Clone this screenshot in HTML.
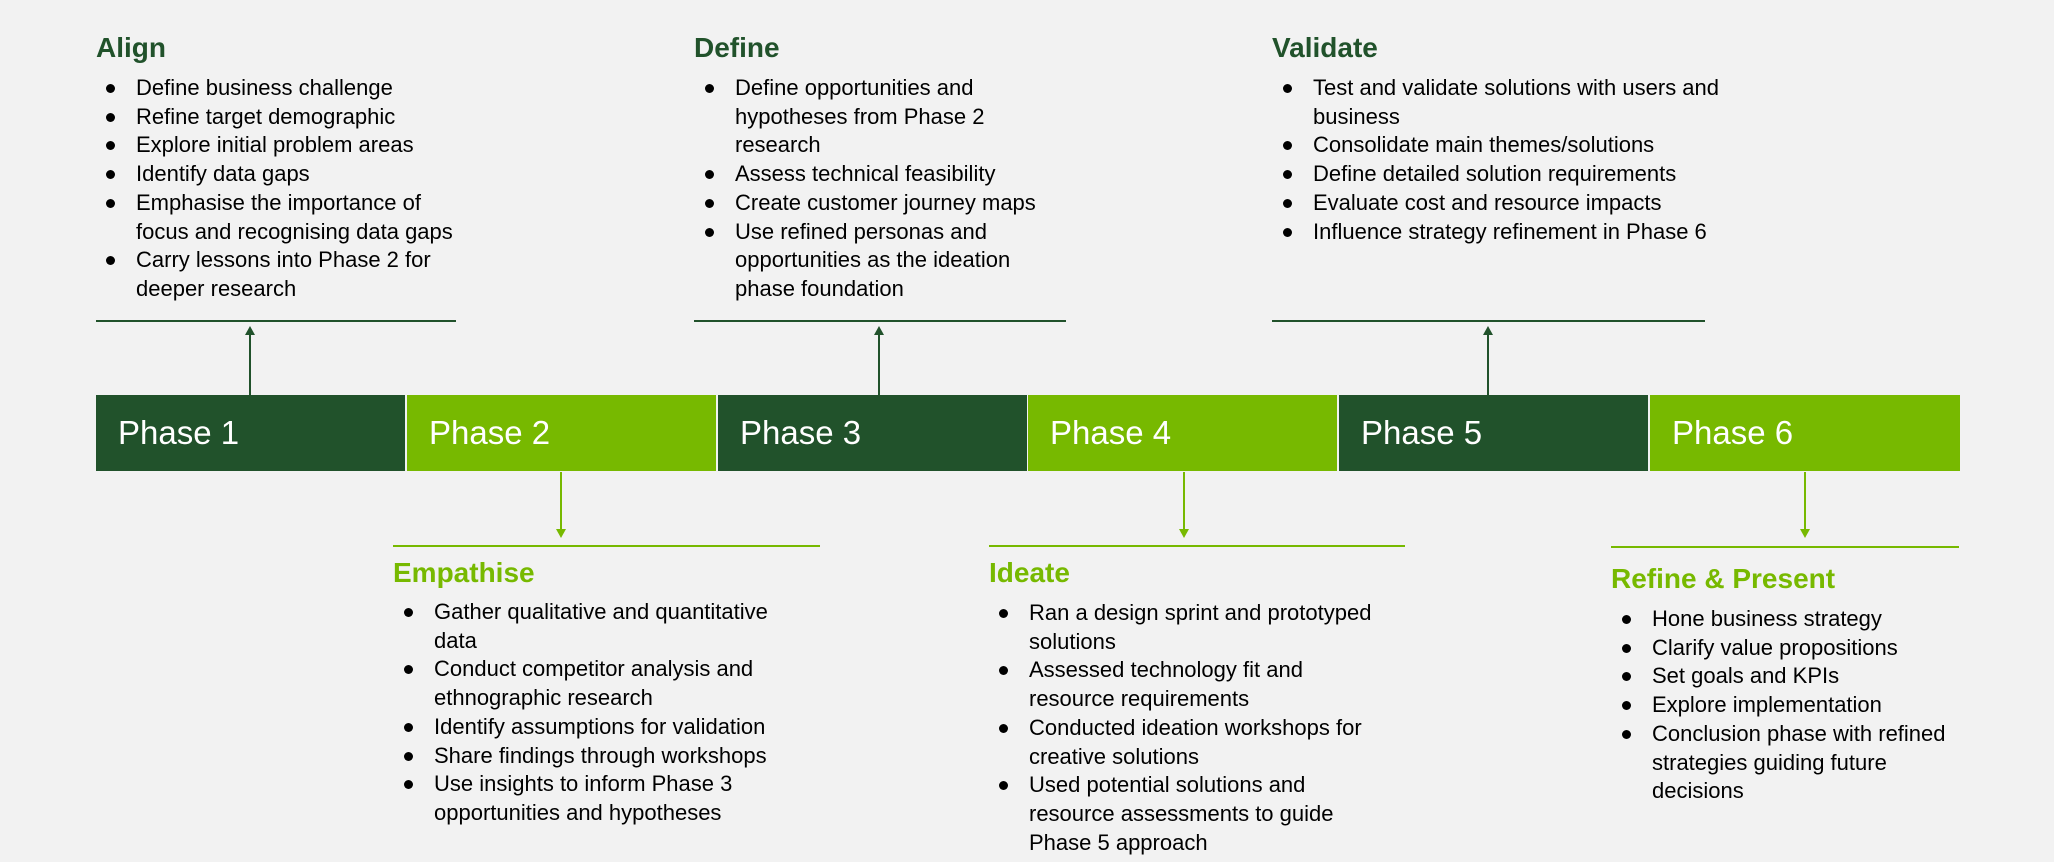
<!DOCTYPE html>
<html><head><meta charset="utf-8"><style>
body{margin:0;background:#f2f2f2;width:2054px;height:862px;overflow:hidden;position:relative;font-family:"Liberation Sans",Arial,sans-serif}
.t{position:absolute;font-weight:bold;font-size:28px;line-height:32px;white-space:nowrap}
.dk{color:#21522b}.lt{color:#77b900}
ul{position:absolute;margin:0;padding:0;list-style:none;font-size:22px;line-height:28.7px;color:#000;white-space:nowrap}
li{position:relative}
li::before{content:"";position:absolute;left:-30px;top:10px;width:9px;height:9px;border-radius:50%;background:#000}
.ph{position:absolute;top:395px;height:76px;width:309px;color:#fff;font-size:33px;line-height:76px;box-sizing:border-box;padding-left:22px}
</style></head><body>
<svg width="2054" height="862" style="position:absolute;left:0;top:0">
<g stroke-width="2">
<line x1="96" y1="321" x2="456" y2="321" stroke="#21522b"/>
<line x1="694" y1="321" x2="1066" y2="321" stroke="#21522b"/>
<line x1="1272" y1="321" x2="1705" y2="321" stroke="#21522b"/>
<line x1="250" y1="395" x2="250" y2="334" stroke="#21522b"/>
<line x1="879" y1="395" x2="879" y2="334" stroke="#21522b"/>
<line x1="1488" y1="395" x2="1488" y2="334" stroke="#21522b"/>
<line x1="393" y1="546" x2="820" y2="546" stroke="#77b900"/>
<line x1="989" y1="546" x2="1405" y2="546" stroke="#77b900"/>
<line x1="1611" y1="547" x2="1959" y2="547" stroke="#77b900"/>
<line x1="561" y1="472" x2="561" y2="530" stroke="#77b900"/>
<line x1="1184" y1="472" x2="1184" y2="530" stroke="#77b900"/>
<line x1="1805" y1="472" x2="1805" y2="530" stroke="#77b900"/>
</g>
<g fill="#21522b"><polygon points="245,335 255,335 250,326"/><polygon points="874,335 884,335 879,326"/><polygon points="1483,335 1493,335 1488,326"/></g>
<g fill="#77b900"><polygon points="556,529 566,529 561,538"/><polygon points="1179,529 1189,529 1184,538"/><polygon points="1800,529 1810,529 1805,538"/></g>
</svg>
<div class="ph" style="left:96px;background:#21522b">Phase 1</div>
<div class="ph" style="left:407px;background:#77b900">Phase 2</div>
<div class="ph" style="left:718px;background:#21522b">Phase 3</div>
<div class="ph" style="left:1028px;background:#77b900">Phase 4</div>
<div class="ph" style="left:1339px;background:#21522b">Phase 5</div>
<div class="ph" style="left:1650px;width:310px;background:#77b900">Phase 6</div>

<div class="t dk" style="left:96px;top:32px">Align</div>
<ul style="left:136px;top:74px">
<li>Define business challenge</li><li>Refine target demographic</li><li>Explore initial problem areas</li><li>Identify data gaps</li><li>Emphasise the importance of<br>focus and recognising data gaps</li><li>Carry lessons into Phase 2 for<br>deeper research</li></ul>

<div class="t dk" style="left:694px;top:32px">Define</div>
<ul style="left:735px;top:74px">
<li>Define opportunities and<br>hypotheses from Phase 2<br>research</li><li>Assess technical feasibility</li><li>Create customer journey maps</li><li>Use refined personas and<br>opportunities as the ideation<br>phase foundation</li></ul>

<div class="t dk" style="left:1272px;top:32px">Validate</div>
<ul style="left:1313px;top:74px">
<li>Test and validate solutions with users and<br>business</li><li>Consolidate main themes/solutions</li><li>Define detailed solution requirements</li><li>Evaluate cost and resource impacts</li><li>Influence strategy refinement in Phase 6</li></ul>

<div class="t lt" style="left:393px;top:557px">Empathise</div>
<ul style="left:434px;top:598px">
<li>Gather qualitative and quantitative<br>data</li><li>Conduct competitor analysis and<br>ethnographic research</li><li>Identify assumptions for validation</li><li>Share findings through workshops</li><li>Use insights to inform Phase 3<br>opportunities and hypotheses</li></ul>

<div class="t lt" style="left:989px;top:557px">Ideate</div>
<ul style="left:1029px;top:599px">
<li>Ran a design sprint and prototyped<br>solutions</li><li>Assessed technology fit and<br>resource requirements</li><li>Conducted ideation workshops for<br>creative solutions</li><li>Used potential solutions and<br>resource assessments to guide<br>Phase 5 approach</li></ul>

<div class="t lt" style="left:1611px;top:563px">Refine &amp; Present</div>
<ul style="left:1652px;top:605px">
<li>Hone business strategy</li><li>Clarify value propositions</li><li>Set goals and KPIs</li><li>Explore implementation</li><li>Conclusion phase with refined<br>strategies guiding future<br>decisions</li></ul>
</body></html>
